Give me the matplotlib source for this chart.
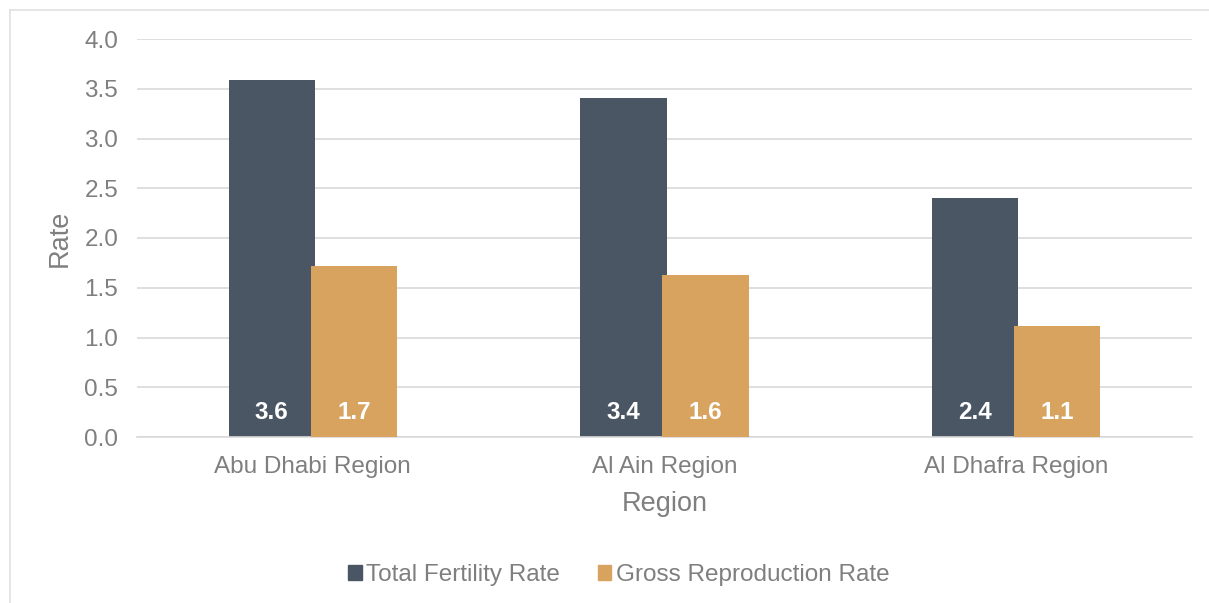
import matplotlib
matplotlib.use("Agg")
import matplotlib.pyplot as plt
import numpy as np
from matplotlib.lines import Line2D

regions = ["Abu Dhabi Region", "Al Ain Region", "Al Dhafra Region"]
tfr = [3.59, 3.41, 2.40]
grr = [1.72, 1.63, 1.12]
series_names = ["Total Fertility Rate", "Gross Reproduction Rate"]
colors = ["#4A5664", "#D8A35E"]

plt.rcParams['font.family'] = ['Liberation Sans', 'DejaVu Sans']
W, H = 1209, 603
fig = plt.figure(figsize=(W / 100, H / 100), dpi=100)
ax = fig.add_axes([137 / W, 1 - 437 / H, (1192 - 137) / W, (437 - 39) / H])

x = np.arange(len(regions))
bw = 0.245
off = 0.1166
b1 = ax.bar(x - off, tfr, bw, color=colors[0], label=series_names[0], zorder=2)
b2 = ax.bar(x + off, grr, bw, color=colors[1], label=series_names[1], zorder=3)

for bars, vals in ((b1, tfr), (b2, grr)):
    for r, v in zip(bars, vals):
        ax.text(r.get_x() + r.get_width() / 2, 0.245, f"{v:.1f}", ha='center', va='center',
                color='white', fontsize=17.5, fontweight='bold', zorder=5)

ax.set_xlim(-0.5, 2.5)
ax.set_ylim(0, 4.0)
ax.set_yticks(np.arange(0, 4.01, 0.5))
ax.set_yticklabels([f"{v:.1f}" for v in np.arange(0, 4.01, 0.5)])
ax.set_xticks(x)
ax.set_xticklabels(regions)
ax.grid(axis='y', color='#D9D9D9', linewidth=1.2, zorder=0)
ax.set_axisbelow(True)
for s in ['top', 'right', 'left']:
    ax.spines[s].set_visible(False)
ax.spines['bottom'].set_color('#D9D9D9')
ax.spines['bottom'].set_linewidth(1.2)
ax.tick_params(axis='both', length=0, labelsize=17.5, labelcolor='#7F7F7F')
ax.tick_params(axis='y', pad=13.5)
ax.tick_params(axis='x', pad=14)
ax.set_ylabel("Rate", fontsize=19.5, color='#7F7F7F', labelpad=8)
ax.set_xlabel("Region", fontsize=19.5, color='#7F7F7F', labelpad=9)

handles = [plt.Rectangle((0, 0), 1, 1, color=c) for c in colors]
fig.legend(handles, series_names, loc='center', bbox_to_anchor=(0.512, 1 - 575 / H),
           ncol=2, frameon=False, fontsize=17.5, labelcolor='#7F7F7F',
           handlelength=0.55, handleheight=0.55, handletextpad=0.2, columnspacing=1.55)

# outer frame lines (top and left)
fig.add_artist(Line2D([10 / W, 1], [1 - 10 / H, 1 - 10 / H], color='#E0E0E0', lw=1.2, transform=fig.transFigure))
fig.add_artist(Line2D([10 / W, 10 / W], [0, 1 - 10 / H], color='#E0E0E0', lw=1.2, transform=fig.transFigure))

fig.savefig("out.png", dpi=100)
